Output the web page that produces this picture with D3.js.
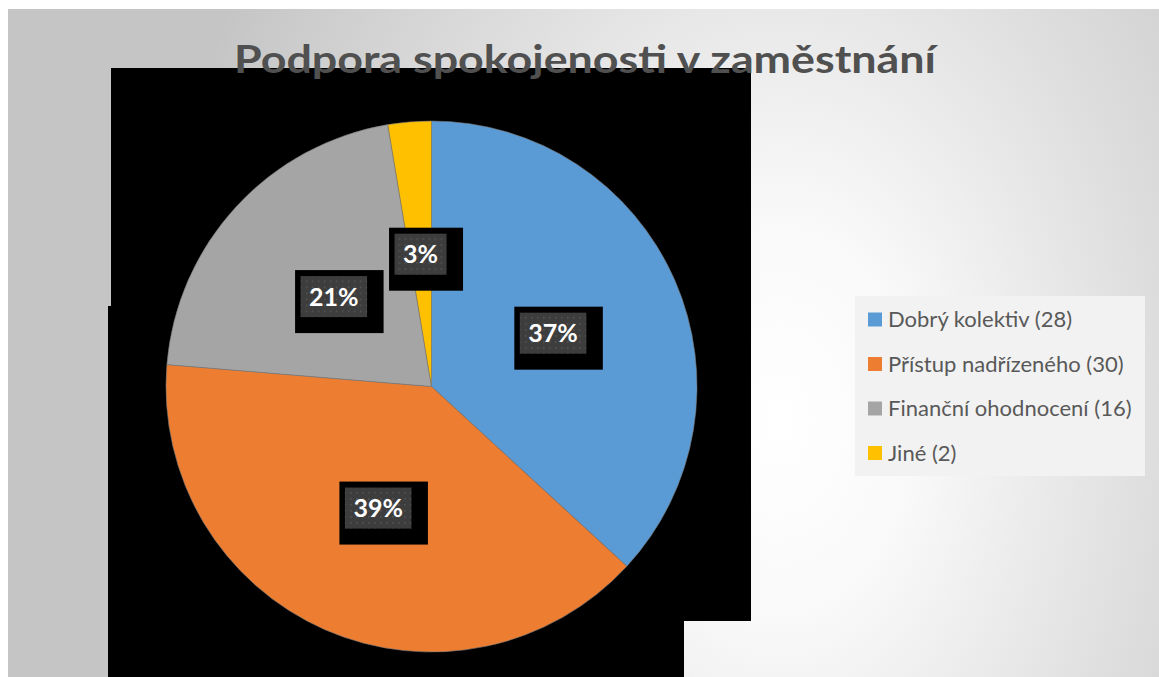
<!DOCTYPE html>
<html>
<head>
<meta charset="utf-8">
<script src="https://cdn.jsdelivr.net/npm/d3@7"></script>
<style>
  html, body { margin: 0; padding: 0; background: #ffffff; }
  svg { display: block; }
</style>
</head>
<body>
<div id="chart"></div>
<script>
// Survey data: what supports job satisfaction
const categories = ["Dobrý kolektiv", "Přístup nadřízeného", "Finanční ohodnocení", "Jiné"];
const counts = [28, 30, 16, 2];
const sliceColors = ["#5b9bd5", "#ed7d31", "#a5a5a5", "#ffc000"];
const titleText = "Podpora spokojenosti v zaměstnání";

const W = 1159, H = 677;
const svg = d3.select("#chart").append("svg").attr("width", W).attr("height", H);
const defs = svg.append("defs");

// Chart area background: soft radial gradient
const grad = defs.append("radialGradient")
  .attr("id", "bg")
  .attr("gradientUnits", "userSpaceOnUse")
  .attr("cx", 0).attr("cy", 0).attr("r", 1)
  .attr("gradientTransform", "translate(780,420) scale(620,900)");
[[0, "#ffffff"], [0.22, "#f9f9f9"], [0.6, "#dedede"], [1, "#c5c5c5"]].forEach(([o, c]) =>
  grad.append("stop").attr("offset", o).attr("stop-color", c));

// Dotted texture used behind the percentage labels
const pat = defs.append("pattern")
  .attr("id", "dots").attr("patternUnits", "userSpaceOnUse")
  .attr("width", 6).attr("height", 6);
pat.append("rect").attr("width", 6).attr("height", 6).attr("fill", "#3d3d3d");
pat.append("rect").attr("x", 2).attr("y", 2).attr("width", 1.5).attr("height", 1.5).attr("fill", "#575757");

svg.append("rect").attr("x", 8).attr("y", 9).attr("width", W - 8).attr("height", H - 9)
  .attr("fill", "url(#bg)");

// Plot area fill (dark)
svg.append("path")
  .attr("d", "M111,68 L751,68 L751,621 L684,621 L684,677 L108,677 L108,306 L111,306 Z")
  .attr("fill", "#000000");

// Title
svg.append("text")
  .attr("x", 585).attr("y", 73)
  .attr("text-anchor", "middle")
  .attr("font-family", "Lato, 'Open Sans', sans-serif")
  .attr("font-weight", 700)
  .attr("font-size", 39)
  .attr("fill", "#505050")
  .attr("textLength", 702)
  .attr("lengthAdjust", "spacingAndGlyphs")
  .text(titleText);

// Pie
const cx = 431.5, cy = 386.5, R = 265.5;
const total = d3.sum(counts);
const data = categories.map((c, i) => ({ cat: c, value: counts[i], color: sliceColors[i] }));
const pie = d3.pie().value(d => d.value).sort(null).startAngle(0).endAngle(2 * Math.PI);
const arcs = pie(data);
const arc = d3.arc().innerRadius(0).outerRadius(R);

const g = svg.append("g").attr("transform", `translate(${cx},${cy})`);
g.selectAll("path.slice")
  .data(arcs)
  .join("path")
  .attr("class", "slice")
  .attr("d", arc)
  .attr("fill", d => d.data.color)
  .attr("stroke", "#7a7a7a")
  .attr("stroke-width", 0.6)
  .attr("stroke-linejoin", "round");

// Percentage labels with boxed background
const lab = g.selectAll("g.lab")
  .data(arcs)
  .join("g")
  .attr("class", "lab")
  .attr("transform", d => { const [x, y] = arc.centroid(d); return `translate(${x},${y})`; });

lab.each(function (d) {
  const sel = d3.select(this);
  const pct = Math.round(d.data.value / total * 100) + "%";
  const outer = sel.append("rect").attr("fill", "#000000");
  const inner = sel.append("rect").attr("fill", "url(#dots)");
  const t = sel.append("text")
    .attr("text-anchor", "middle")
    .attr("dy", "0.36em")
    .attr("font-family", "Lato, sans-serif")
    .attr("font-weight", 700)
    .attr("font-size", 25)
    .attr("fill", "#ffffff")
    .text(pct);
  const tw = t.node().getComputedTextLength();
  const iw = tw + 17, ih = 41;
  inner.attr("x", -iw / 2).attr("y", -ih / 2).attr("width", iw).attr("height", ih);
  outer.attr("x", -iw / 2 - 5.5).attr("y", -ih / 2 - 6).attr("width", iw + 22).attr("height", ih + 22);
});

// Legend
const lg = svg.append("g").attr("transform", "translate(855,296)");
lg.append("rect").attr("width", 290).attr("height", 180).attr("fill", "#f2f2f2");
const rows = lg.selectAll("g.row")
  .data(data)
  .join("g")
  .attr("class", "row")
  .attr("transform", (d, i) => `translate(13,${23.5 + i * 44.5})`);
rows.append("rect")
  .attr("x", 0).attr("y", -7).attr("width", 14).attr("height", 14)
  .attr("fill", d => d.color);
rows.append("text")
  .attr("x", 20).attr("dy", "0.36em")
  .attr("font-family", "Lato, sans-serif")
  .attr("font-size", 22)
  .attr("fill", "#595959")
  .text(d => `${d.cat} (${d.value})`);
</script>
</body>
</html>
